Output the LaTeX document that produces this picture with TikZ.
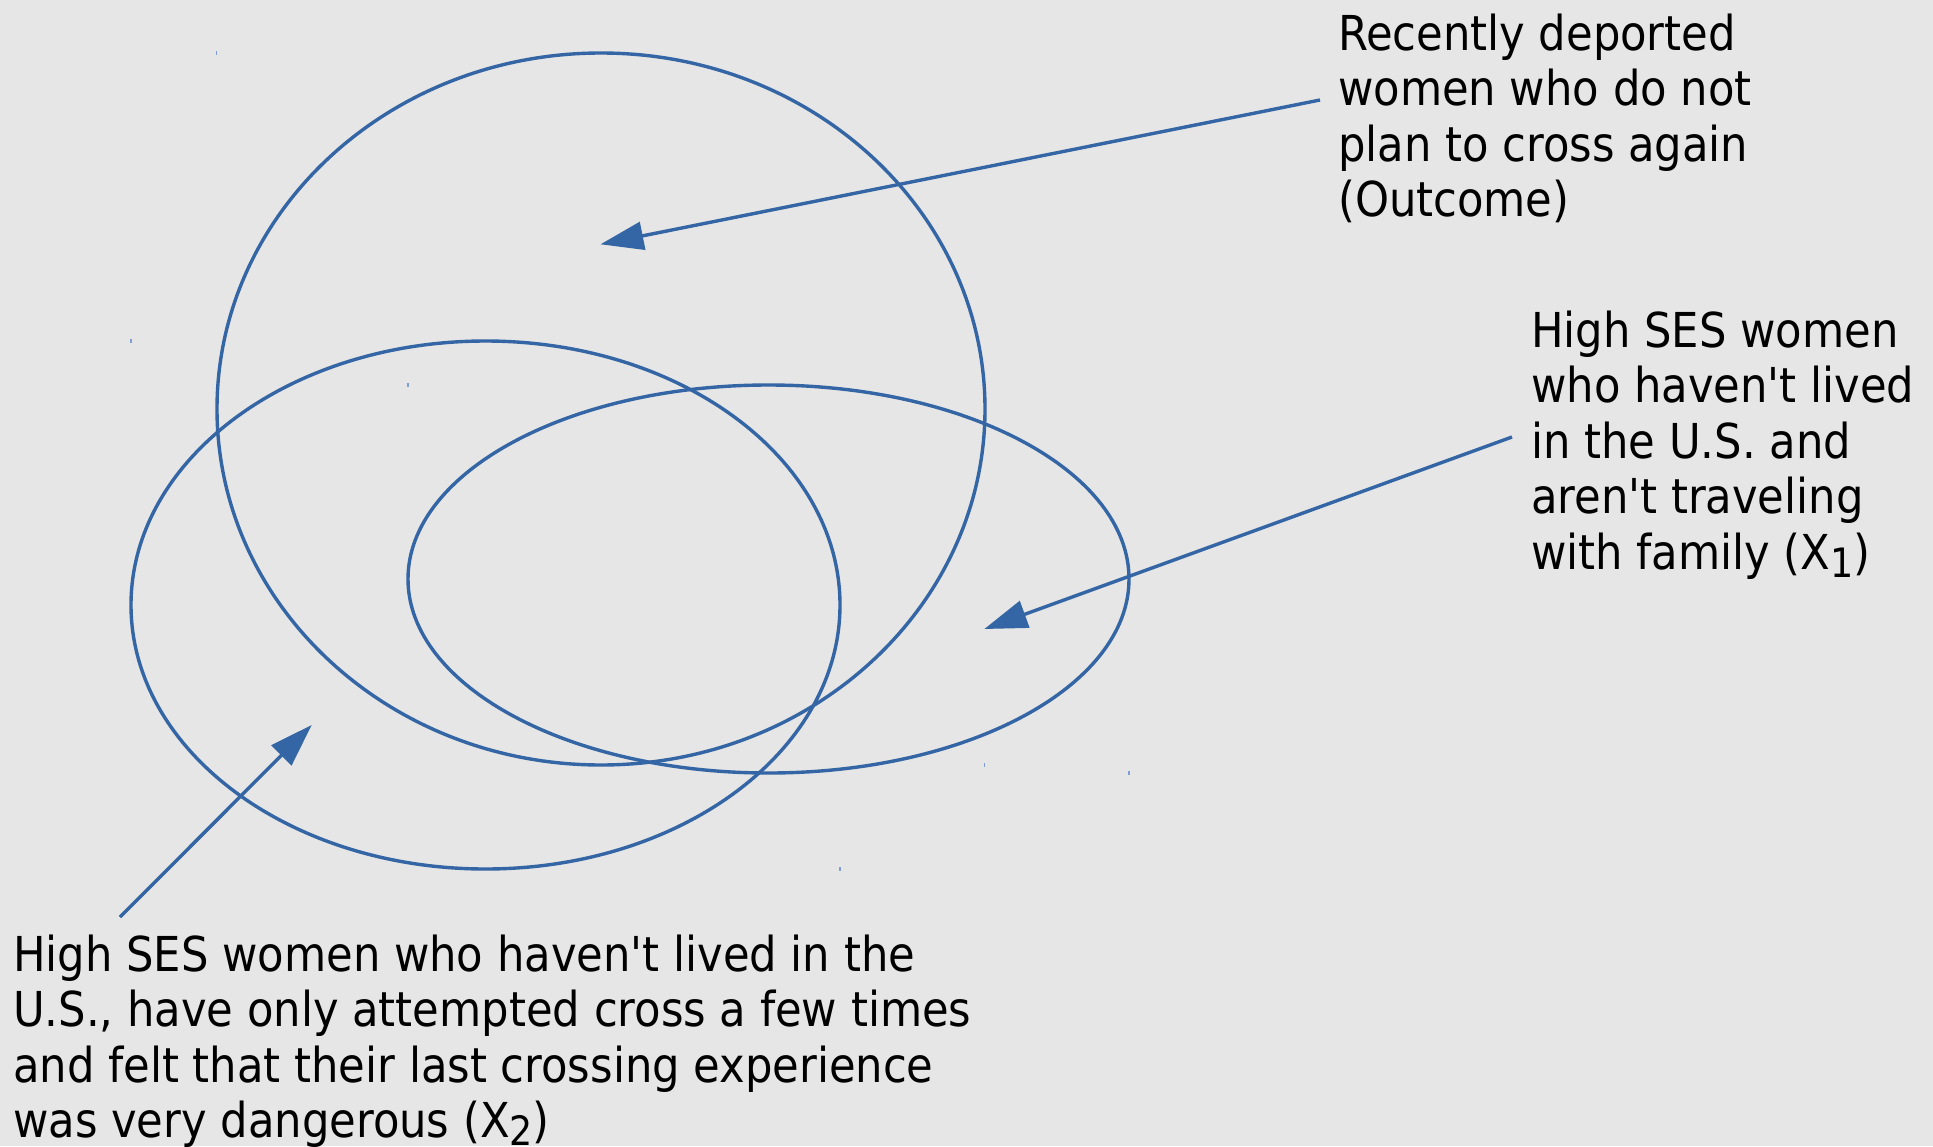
\documentclass[tikz,border=0pt]{standalone}
\usepackage{fontspec}
\setmainfont{DejaVu Sans Condensed}
\usetikzlibrary{arrows.meta,shapes.geometric}
\definecolor{bg}{HTML}{E6E6E6}
\definecolor{lineblue}{HTML}{3465A4}
\definecolor{tickblue}{HTML}{7F9FD0}
\newcommand\lowsub[1]{\raisebox{-8pt}{\fontsize{40.5}{40.5}\selectfont #1}}
\begin{document}
\begin{tikzpicture}[x=1pt,y=-1pt,
  setshape/.style={draw=lineblue, line width=3.4pt, ellipse, inner sep=0pt, outer sep=0pt},
  lbl/.style={anchor=base west, align=left, inner sep=0pt, font=\fontsize{48.1}{55.5}\selectfont, text=black},
  pointer/.style={draw=lineblue, line width=3.4pt, -{Triangle[length=43pt,width=28pt]}},
  tick/.style={draw=tickblue, line width=1.2pt}]
\useasboundingbox (0,0) rectangle (1933,1146);
\fill[bg] (0,0) rectangle (1933,1146);
% sets
\node[setshape, minimum width=768pt, minimum height=712pt] (outcome) at (601,409) {};
\node[setshape, minimum width=709pt, minimum height=528pt] (xtwo) at (485.5,605) {};
\node[setshape, minimum width=721pt, minimum height=388pt] (xone) at (768.5,579) {};
% selection marks
\draw[tick] (216.5,51) -- (216.5,55);
\draw[tick] (984.5,763) -- (984.5,767);
\draw[tick] (131,339) -- (131,343);
\draw[tick] (840,867) -- (840,871);
\draw[tick] (408,383) -- (408,387);
\draw[tick] (1129,771) -- (1129,775);
% labels (base anchor = baseline of the last line)
\node[lbl] (lblout) at (1338,216.5) {Recently deported\\women who do not\\plan to cross again\\(Outcome)};
\node[lbl] (lblone) at (1531,569) {High SES women\\who haven\textquotesingle t lived\\in the U.S. and\\aren\textquotesingle t traveling\\with family (X\lowsub{1})};
\node[lbl] (lbltwo) at (13,1137.5) {High SES women who haven\textquotesingle t lived in the\\U.S., have only attempted cross a few times\\and felt that their last crossing experience\\was very dangerous (X\lowsub{2})};
% pointer ends
\coordinate (s1) at (1320,100);
\coordinate (t1) at (600.5,244.3);
\coordinate (s2) at (1512,437);
\coordinate (t2) at (984.3,629);
\coordinate (s3) at (120,917);
\coordinate (t3) at (311.7,725);
\draw[pointer] (s1) -- (t1);
\draw[pointer] (s2) -- (t2);
\draw[pointer] (s3) -- (t3);
\end{tikzpicture}
\end{document}
